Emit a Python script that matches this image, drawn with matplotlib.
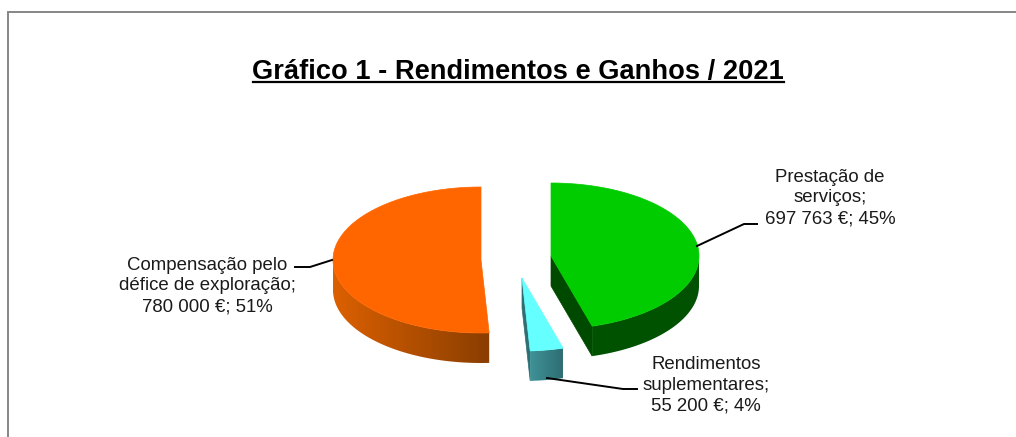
import numpy as np
import matplotlib
matplotlib.use('Agg')
import matplotlib.pyplot as plt
from matplotlib.patches import Polygon

plt.rcParams['font.family'] = ['Liberation Sans', 'DejaVu Sans']

title = 'Gráfico 1 - Rendimentos e Ganhos / 2021'
names = ['Prestação de\nserviços;', 'Rendimentos\nsuplementares;', 'Compensação pelo\ndéfice de exploração;']
values = [697763, 55200, 780000]
percents = ['45%', '4%', '51%']
amounts = ['697 763 €', '55 200 €', '780 000 €']

# slice styling, one per slice, same order as values
top_colors = ['#00CC00', '#66FFFF', '#FF6600']
side_left = ['#005200', '#3E9298', '#DC6000']
side_right = ['#005200', '#2F6E72', '#8A3E00']
cut_colors = ['#004A00', '#2F6E72', '#8A3E00']
centers = [(551, 256), (522, 278), (481, 260)]

RX, RY, DEPTH = 148, 73, 30


def rim(cx, cy, a0, a1, n=120):
    t = np.radians(np.linspace(a0, a1, n))
    return t, cx + RX * np.cos(t), cy - RY * np.sin(t)


def draw_slice(ax, center, a0, a1, top, left, right, cut):
    cx, cy = center
    t, x, y = rim(cx, cy, a0, a1)

    # the cut face looking at the viewer, the big orange slice hides its own
    if a1 > -90:
        ax.add_patch(Polygon([(cx, cy), (x[-1], y[-1]), (x[-1], y[-1] + DEPTH), (cx, cy + DEPTH)],
                             fc=cut, ec=cut, lw=0.5, zorder=2))

    # outer wall, only where the rim faces down
    keep = np.sin(t) <= 0.01
    xs, ys = x[keep], y[keep]
    wall = Polygon(np.column_stack([np.r_[xs, xs[::-1]], np.r_[ys, ys[::-1] + DEPTH]]),
                   fc='none', ec='none', transform=ax.transData)
    ax.add_patch(wall)
    cmap = matplotlib.colors.LinearSegmentedColormap.from_list('wall', [left, right])
    grad = np.linspace(0, 1, 256).reshape(1, -1)
    im = ax.imshow(grad, cmap=cmap, aspect='auto', zorder=3,
                   extent=(xs.min(), xs.max(), ys.max() + DEPTH, ys.min()))
    im.set_clip_path(wall)

    ax.add_patch(Polygon(np.column_stack([np.r_[cx, x], np.r_[cy, y]]),
                         fc=top, ec=top, lw=0.5, zorder=4))


fig = plt.figure(figsize=(10.16, 4.37), dpi=100)
ax = fig.add_axes([0, 0, 1, 1])

# chart frame, the image cuts it at the right and the bottom
ax.plot([8, 8, 1016], [437, 12, 12], color='#868686', lw=1.4, solid_joinstyle='miter')

ax.text(518, 79, title, fontsize=19.6, fontweight='bold', ha='center', va='baseline', color='black')
ax.plot([253, 784], [82, 82], color='black', lw=1.6)

fracs = np.array(values) / sum(values)
start = 90.0
for i, fr in enumerate(fracs):
    end = start - 360 * fr
    draw_slice(ax, centers[i], start, end, top_colors[i], side_left[i], side_right[i], cut_colors[i])
    start = end

# data labels
label_pos = [(830, 198), (706, 385), (207, 286)]
for i, (lx, ly) in enumerate(label_pos):
    ax.text(lx, ly, names[i] + '\n' + amounts[i] + '; ' + percents[i], fontsize=13.4,
            ha='center', va='center', linespacing=1.3, color='#1a1a1a', zorder=6)

# leader lines
ax.plot([697, 744, 757], [246, 224, 224], color='black', lw=1.4, zorder=6)
ax.plot([547, 623, 637], [378, 389, 389], color='black', lw=1.4, zorder=6)
ax.plot([295, 310, 332], [267, 267, 260], color='black', lw=1.4, zorder=6)

ax.set_xlim(0, 1016)
ax.set_ylim(437, 0)
ax.axis('off')

fig.savefig('out.png', dpi=100)
